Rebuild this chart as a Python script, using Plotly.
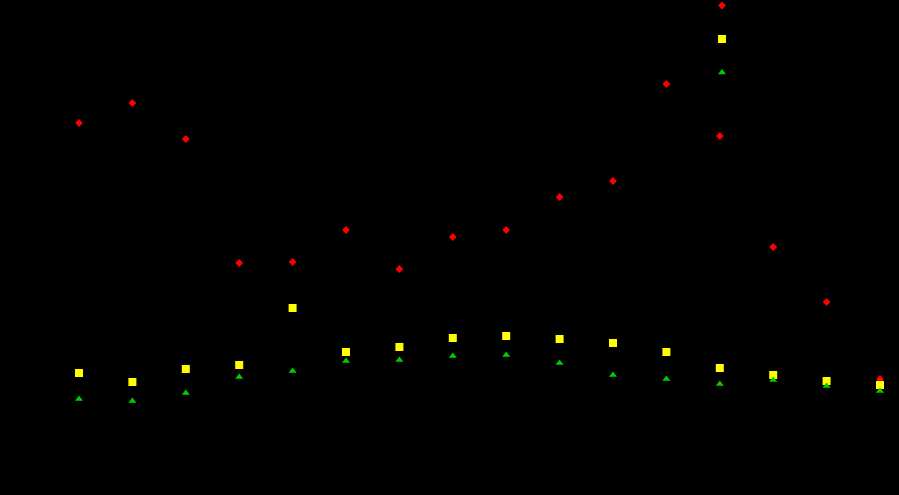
import plotly.graph_objects as go

categories = list(range(1, 17))
red_values = [372, 392, 356, 232, 233, 265, 226, 258, 265, 298, 314, 411, 359, 248, 193, 116]
yellow_values = [122, 113, 126, 130, 187, 143, 148, 157, 159, 156, 152, 143, 127, 120, 114, 110]
green_values = [96, 94, 102, 118, 124, 134, 135, 139, 140, 132, 120, 116, 111, 115, 109, 104]
series_names = ["Series A", "Series B", "Series C"]

fig = go.Figure()
fig.add_trace(go.Scatter(x=categories, y=red_values, mode="markers", name=series_names[0],
                         legendgroup="a",
                         marker=dict(symbol="diamond", size=6, color="#ff0000", line=dict(width=0))))
fig.add_trace(go.Scatter(x=categories, y=yellow_values, mode="markers", name=series_names[1],
                         legendgroup="b",
                         marker=dict(symbol="square", size=8, color="#ffff00", line=dict(width=0))))
fig.add_trace(go.Scatter(x=categories, y=green_values, mode="markers", name=series_names[2],
                         legendgroup="c",
                         marker=dict(symbol="triangle-up", size=7, color="#00cc00", line=dict(width=0))))

step = 53.4
fig.update_layout(
    width=899, height=495,
    paper_bgcolor="#000000", plot_bgcolor="#000000",
    margin=dict(l=0, r=0, t=0, b=0, autoexpand=False),
    xaxis=dict(range=[1 - 79 / step, 1 + (899 - 79) / step], visible=False, showgrid=False, zeroline=False),
    yaxis=dict(range=[0, 495], visible=False, showgrid=False, zeroline=False),
    showlegend=True,
    legend=dict(x=(722 - 20) / 899, xanchor="left", y=1 + 9 / 495, yanchor="top",
                font=dict(color="#000000", size=8), bgcolor="rgba(0,0,0,0)",
                tracegroupgap=14.5),
)

fig.write_html("out.html", config={"displayModeBar": False},
               post_script="document.body.style.margin='0';document.body.style.background='#000000';")
